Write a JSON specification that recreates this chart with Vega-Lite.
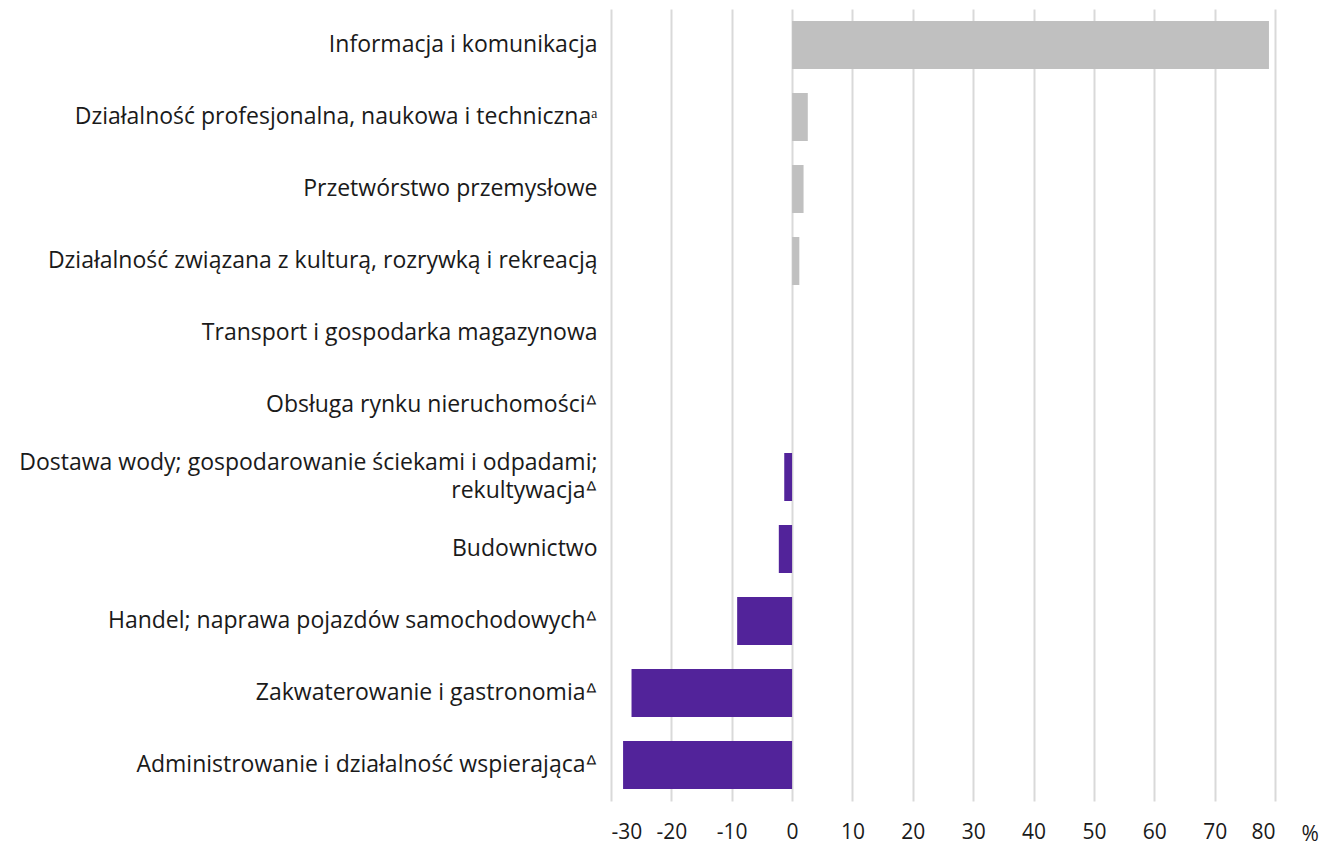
{
  "$schema": "https://vega.github.io/schema/vega-lite/v6.json",
  "autosize": {"type": "none"},
  "padding": {"left": 611, "top": 9, "right": 61, "bottom": 47},
  "width": 664,
  "height": 792,
  "background": "white",
  "config": {"view": {"stroke": null}, "font": "Open Sans"},
  "data": {
    "values": [
      {"sekcja": "Informacja i komunikacja", "wartosc": 79.0},
      {"sekcja": "Działalność profesjonalna, naukowa i technicznaᵃ", "wartosc": 2.6},
      {"sekcja": "Przetwórstwo przemysłowe", "wartosc": 1.9},
      {"sekcja": "Działalność związana z kulturą, rozrywką i rekreacją", "wartosc": 1.2},
      {"sekcja": "Transport i gospodarka magazynowa", "wartosc": 0},
      {"sekcja": "Obsługa rynku nieruchomościᐞ", "wartosc": 0},
      {"sekcja": "Dostawa wody; gospodarowanie ściekami i odpadami;|rekultywacjaᐞ", "wartosc": -1.3},
      {"sekcja": "Budownictwo", "wartosc": -2.2},
      {"sekcja": "Handel; naprawa pojazdów samochodowychᐞ", "wartosc": -9.1},
      {"sekcja": "Zakwaterowanie i gastronomiaᐞ", "wartosc": -26.6},
      {"sekcja": "Administrowanie i działalność wspierającaᐞ", "wartosc": -28.0}
    ]
  },
  "mark": {"type": "bar"},
  "encoding": {
    "y": {
      "field": "sekcja",
      "type": "nominal",
      "sort": null,
      "scale": {"paddingInner": 0.333, "paddingOuter": 0.1665},
      "axis": {
        "title": null,
        "domain": false,
        "ticks": false,
        "labelFont": "Open Sans",
        "labelFontSize": 23,
        "labelColor": "#1a1a1a",
        "labelPadding": 14,
        "labelLimit": 700,
        "labelLineHeight": 28,
        "labelOffset": {"condition": {"test": "indexof(datum.value, '|') >= 0", "value": -14}, "value": 0},
        "labelExpr": "split(datum.label, '|')"
      }
    },
    "x": {
      "field": "wartosc",
      "type": "quantitative",
      "scale": {"domain": [-30, 80], "nice": false, "zero": true},
      "axis": {
        "values": [-30, -20, -10, 0, 10, 20, 30, 40, 50, 60, 70, 80],
        "domain": false,
        "ticks": false,
        "grid": true,
        "gridColor": "#d9d9d9",
        "gridWidth": 2,
        "labelFont": "Open Sans",
        "labelFontSize": 21,
        "labelColor": "#1a1a1a",
        "labelPadding": 20,
        "labelExpr": "replace(datum.label, '−', '-')",
        "title": "%",
        "titleFont": "Open Sans",
        "titleFontSize": 21,
        "titleFontWeight": "normal",
        "titleColor": "#1a1a1a",
        "titleAnchor": "start",
        "titleAlign": "left",
        "titleBaseline": "middle",
        "titleX": 690,
        "titleY": 33
      }
    },
    "color": {
      "condition": {"test": "datum.wartosc < 0", "value": "#52239a"},
      "value": "#c0c0c0"
    }
  }
}
